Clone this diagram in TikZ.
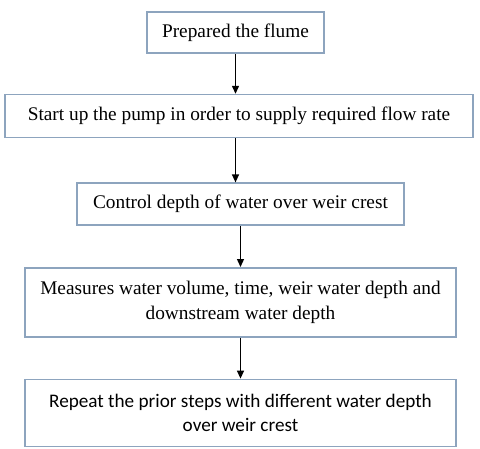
\documentclass[tikz,border=0pt]{standalone}
\usepackage{fontspec}
\setmainfont{Liberation Serif}
\newfontfamily\carlitofont{Carlito}
\usepackage{tikz}
\usetikzlibrary{arrows.meta, positioning}
\definecolor{boxline}{HTML}{8DA4BE}
\tikzstyle{process} = [rectangle, draw=boxline, line width=1.6pt, fill=white, text=black, align=center, font=\fontsize{19.3}{25}\selectfont, inner sep=3pt]
\tikzstyle{flow} = [line width=1.3pt, -{Triangle[length=8pt, width=7pt]}, color=black]

\begin{document}
\begin{tikzpicture}[node distance=41pt]
\useasboundingbox (0,0) rectangle (480pt,-448pt);

\node (flume) [process, minimum width=177pt, minimum height=41pt] at (235.5pt,-32.5pt) {Prepared the flume};
\node (pump) [process, minimum width=468pt, minimum height=43pt, below=40pt of flume, xshift=3.5pt] {Start up the pump in order to supply required flow rate};
\node (depth) [process, minimum width=327pt, minimum height=42pt, below=44pt of pump, xshift=1.5pt] {Control depth of water over weir crest};
\node (measure) [process, minimum width=431pt, minimum height=69pt, below=of depth] {Measures water volume, time, weir water depth and\\downstream water depth};
\node (again) [process, minimum width=431pt, minimum height=67pt, below=of measure, font=\carlitofont\fontsize{19.2}{24}\selectfont] {Repeat the prior steps with different water depth\\over weir crest};

\draw[flow] (flume) -- (flume |- pump.north);
\draw[flow] (pump.south -| flume) -- (flume |- depth.north);
\draw[flow] (depth) -- (measure);
\draw[flow] (measure) -- (again);

\end{tikzpicture}
\end{document}
